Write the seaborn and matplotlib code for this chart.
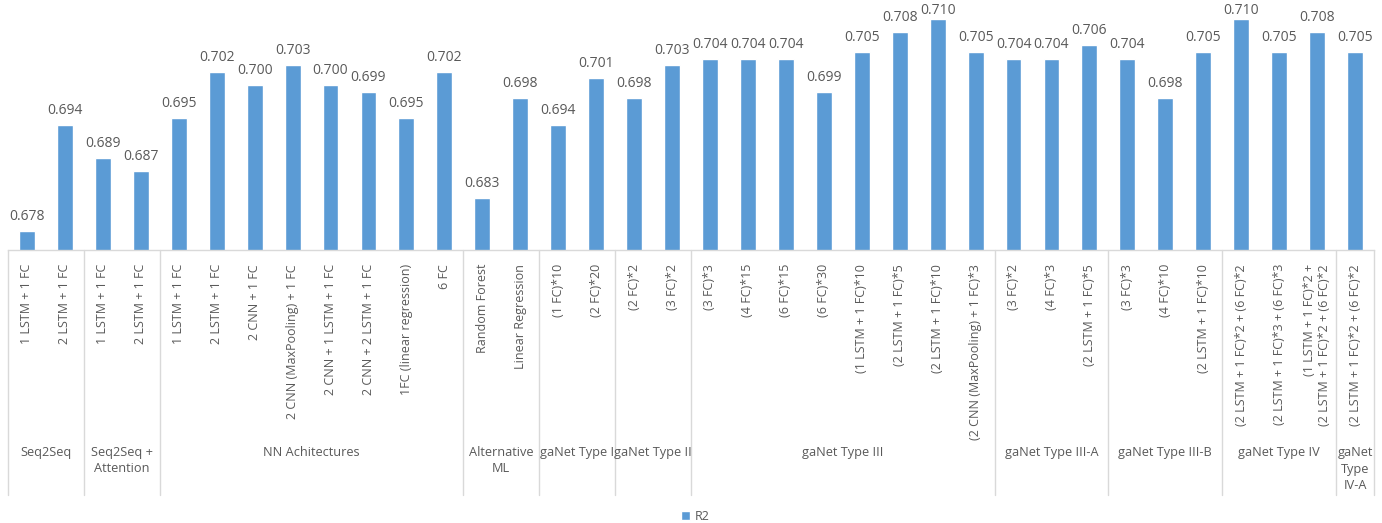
import matplotlib
matplotlib.use("Agg")
import matplotlib.pyplot as plt
import matplotlib.transforms as mtransforms
import seaborn as sns
import pandas as pd

# Models, grouped by family
groups = [
    "Seq2Seq", "Seq2Seq +\nAttention", "NN Achitectures", "Alternative\nML",
    "gaNet Type I", "gaNet Type II", "gaNet Type III", "gaNet Type III-A",
    "gaNet Type III-B", "gaNet Type IV", "gaNet\nType\nIV-A",
]
group_sizes = [2, 2, 8, 2, 2, 2, 8, 3, 3, 3, 1]

models = [
    "1 LSTM + 1 FC", "2 LSTM + 1 FC",
    "1 LSTM + 1 FC", "2 LSTM + 1 FC",
    "1 LSTM + 1 FC", "2 LSTM + 1 FC", "2 CNN + 1 FC", "2 CNN (MaxPooling) + 1 FC",
    "2 CNN + 1 LSTM + 1 FC", "2 CNN + 2 LSTM + 1 FC", "1FC (linear regression)", "6 FC",
    "Random Forest", "Linear Regression",
    "(1 FC)*10", "(2 FC)*20",
    "(2 FC)*2", "(3 FC)*2",
    "(3 FC)*3", "(4 FC)*15", "(6 FC)*15", "(6 FC)*30", "(1 LSTM + 1 FC)*10",
    "(2 LSTM + 1 FC)*5", "(2 LSTM + 1 FC)*10", "(2 CNN (MaxPooling) + 1 FC)*3",
    "(3 FC)*2", "(4 FC)*3", "(2 LSTM + 1 FC)*5",
    "(3 FC)*3", "(4 FC)*10", "(2 LSTM + 1 FC)*10",
    "(2 LSTM + 1 FC)*2 + (6 FC)*2", "(2 LSTM + 1 FC)*3 + (6 FC)*3",
    "(1 LSTM + 1 FC)*2 +\n(2 LSTM + 1 FC)*2 + (6 FC)*2",
    "(2 LSTM + 1 FC)*2 + (6 FC)*2",
]

r2 = [
    0.678, 0.694,
    0.689, 0.687,
    0.695, 0.702, 0.700, 0.703, 0.700, 0.699, 0.695, 0.702,
    0.683, 0.698,
    0.694, 0.701,
    0.698, 0.703,
    0.704, 0.704, 0.704, 0.699, 0.705, 0.708, 0.710, 0.705,
    0.704, 0.704, 0.706,
    0.704, 0.698, 0.705,
    0.710, 0.705, 0.708,
    0.705,
]

BLUE = "#5B9BD5"
TEXT = "#595959"
GRID = "#D9D9D9"

sns.set_theme(style="white")
plt.rcParams["font.family"] = ["Open Sans", "DejaVu Sans"]

df = pd.DataFrame({"slot": range(len(r2)), "R2": r2})

fig = plt.figure(figsize=(13.82, 5.23), dpi=100)
ax = fig.add_axes([8 / 1382, 1 - 250 / 523, 1366 / 1382, 245 / 523])

sns.barplot(data=df, x="slot", y="R2", color=BLUE, width=0.42,
            saturation=1, label="R2", ax=ax)
if ax.get_legend() is not None:
    ax.get_legend().remove()

ymin, ymax = 0.67514, 0.71207
ax.set_ylim(ymin, ymax)
ax.set_xlim(-0.5, len(r2) - 0.5)
ax.set_yticks([])
ax.set_ylabel("")
ax.set_xlabel("")

# Value labels above the bars; the tallest ones sit closer so they stay in frame
for c in ax.containers:
    labels = ax.bar_label(c, fmt="%.3f", padding=5, fontsize=10, color=TEXT)
    for ann, v in zip(labels, r2):
        if v >= 0.7095:
            ann.xyann = (0, 0.5)

ax.set_xticks(range(len(models)))
ax.set_xticklabels(models, rotation=90, fontsize=9, color=TEXT, multialignment="right")
ax.tick_params(axis="x", length=0, pad=10)

for s in ["left", "right", "top"]:
    ax.spines[s].set_visible(False)
ax.spines["bottom"].set_color(GRID)
ax.spines["bottom"].set_linewidth(1)

# Group separators and group names under the tick labels
trans = mtransforms.blended_transform_factory(ax.transData, ax.transAxes)
start = 0
edges = [-0.5]
for name, n in zip(groups, group_sizes):
    end = start + n
    edges.append(end - 0.5)
    mid = (start + end - 1) / 2
    ax.text(mid, -0.80, name, transform=trans, ha="center", va="top",
            fontsize=9.2, color=TEXT, linespacing=1.35)
    start = end
for e in edges:
    ax.plot([e, e], [0, -1.0], transform=trans, color=GRID, lw=1, clip_on=False)

fig.legend(loc="lower center", bbox_to_anchor=(0.503, -0.022), frameon=False,
           fontsize=9, labelcolor=TEXT, handlelength=0.75, handleheight=0.75,
           handletextpad=0.4)

fig.savefig("out.png", dpi=100)
